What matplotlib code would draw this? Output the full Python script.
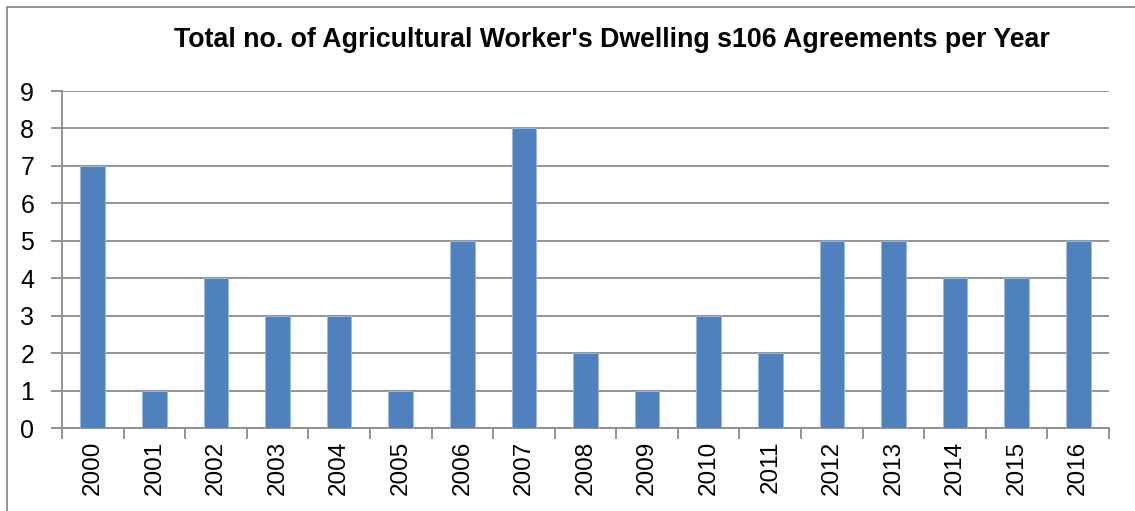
import matplotlib.pyplot as plt
import matplotlib.patches as patches
import numpy as np

years = ["2000", "2001", "2002", "2003", "2004", "2005", "2006", "2007", "2008",
         "2009", "2010", "2011", "2012", "2013", "2014", "2015", "2016"]
agreements = [7, 1, 4, 3, 3, 1, 5, 8, 2, 1, 3, 2, 5, 5, 4, 4, 5]

plt.rcParams['font.family'] = ['Liberation Sans', 'DejaVu Sans']

fig = plt.figure(figsize=(11.35, 5.11), dpi=100)
W, H = 1135, 511
ax = fig.add_axes([62 / W, 1 - 428 / H, (1109 - 62) / W, (428 - 91) / H])

# outer chart border
fig.patches.append(patches.Rectangle((7 / W, -0.01), 1.2, 1 - 7 / H + 0.01, transform=fig.transFigure,
                                     fill=False, edgecolor='#8c8c8c', linewidth=1.3))

x = np.arange(len(years))
ax.bar(x, agreements, width=0.4, color='#4F81BD', edgecolor='#9dbbe0', linewidth=0.6, zorder=3)

ax.set_xlim(-0.5, len(years) - 0.5)
ax.set_ylim(0, 9)
ax.set_yticks(range(0, 10))
ax.yaxis.grid(True, color='#8c8c8c', linewidth=1.3, zorder=0)
ax.tick_params(axis='y', length=8, width=1.3, color='#8c8c8c', labelsize=18, pad=12)

ax.set_xticks(x)
ax.set_xticklabels(years, rotation=90, fontsize=17.5)
ax.set_xticks(np.arange(-0.5, len(years)), minor=True)
ax.tick_params(axis='x', which='major', length=0, pad=9)
ax.tick_params(axis='x', which='minor', length=8, width=1.3, color='#8c8c8c')

for s in ['top', 'right']:
    ax.spines[s].set_visible(False)
for s in ['left', 'bottom']:
    ax.spines[s].set_color('#8c8c8c')
    ax.spines[s].set_linewidth(1.3)

fig.text(612 / W, 1 - 40 / H, "Total no. of Agricultural Worker's Dwelling s106 Agreements per Year",
         ha='center', va='center', fontsize=19.3, fontweight='bold')

fig.savefig('out.png', dpi=100)
